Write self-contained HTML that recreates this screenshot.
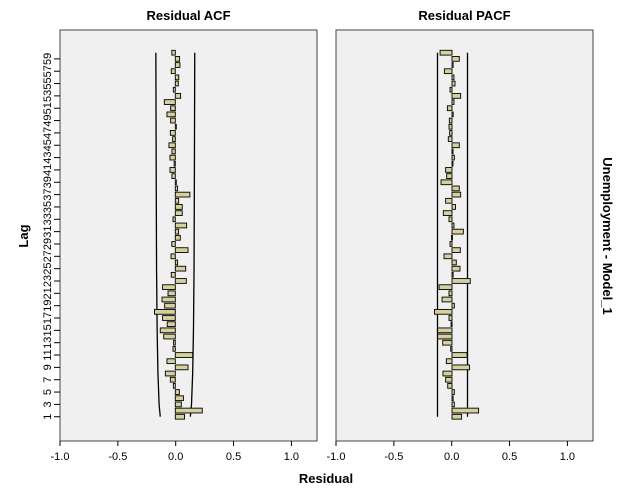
<!DOCTYPE html>
<html><head><style>body{margin:0;background:#fff}svg{display:block}text{font-family:"Liberation Sans",Arial,sans-serif}</style></head>
<body>
<svg id="s" width="626" height="501" xmlns="http://www.w3.org/2000/svg"></svg>
<script>
const acf=[0.08,0.233,0.052,0.07,0.035,-0.017,-0.043,-0.086,0.11,-0.072,0.15,-0.02,-0.015,-0.1,-0.13,-0.07,-0.11,-0.18,-0.092,-0.115,-0.063,-0.11,0.095,-0.035,0.09,0.02,-0.037,0.11,-0.03,0.043,0.029,0.098,-0.02,0.06,0.06,0.029,0.126,0.02,0.003,-0.029,-0.046,-0.01,-0.046,-0.029,-0.055,-0.023,-0.043,0.008,-0.04,-0.072,-0.04,-0.095,0.046,-0.017,0.026,0.03,-0.035,0.04,0.037,-0.03];
const pacf=[0.083,0.23,0.02,0.01,0.02,-0.037,-0.055,-0.078,0.152,-0.049,0.13,-0.011,-0.08,-0.124,-0.124,-0.008,-0.026,-0.152,0.02,-0.086,-0.026,-0.112,0.158,0.01,0.069,0.037,-0.069,0.072,-0.017,-0.005,0.098,0.017,-0.026,-0.075,0.03,-0.055,0.075,0.063,-0.095,-0.046,-0.055,0.008,0.02,0.002,0.063,-0.032,-0.02,-0.026,-0.023,0.01,-0.04,0.017,0.075,-0.017,0.026,0.017,-0.066,0.01,0.063,-0.103];
let h='';
const Y=L=>52.7+(60-L)*6.17, S=115.7;
function panel(x0,title,data,zero,lines){
 h+=`<rect x="${x0}" y="30" width="257" height="411" fill="#f0f0f0" stroke="#444" stroke-width="1"/>`;
 h+=`<text x="${x0+128.5}" y="20" font-size="13" font-weight="bold" text-anchor="middle">${title}</text>`;
 h+=lines;
 data.forEach((v,i)=>{const L=i+1,y=Y(L)-2.4;const a=Math.min(zero,zero+v*S),w=Math.max(Math.abs(v*S),1);
  h+=`<rect x="${a}" y="${y}" width="${w}" height="4.8" fill="#d6d09c" stroke="#000" stroke-width="0.9"/>`;});
 [-1,-0.5,0,0.5,1].forEach(t=>{const x=x0+(t+1)*S;h+=`<line x1="${x}" y1="441" x2="${x}" y2="446" stroke="#000"/><text x="${x}" y="460" font-size="11" text-anchor="middle">${t.toFixed(1)}</text>`;});
}
const za=175.3;
const bnd=[[1,0.13],[3,0.14],[8,0.15],[15,0.157],[25,0.162],[40,0.165],[60,0.168]];
let pl=bnd.map(([L,b])=>`${za-b*S},${Y(L)}`).join(' '),pr=bnd.map(([L,b])=>`${za+b*S},${Y(L)}`).join(' ');
panel(60,'Residual ACF',acf,za,`<polyline points="${pl}" fill="none" stroke="#000" stroke-width="1.3"/><polyline points="${pr}" fill="none" stroke="#000" stroke-width="1.3"/>`);
const zp=452;
panel(336,'Residual PACF',pacf,zp,`<line x1="${zp-14.5}" y1="${Y(60)}" x2="${zp-14.5}" y2="${Y(1)}" stroke="#000" stroke-width="1.3"/><line x1="${zp+15.5}" y1="${Y(60)}" x2="${zp+15.5}" y2="${Y(1)}" stroke="#000" stroke-width="1.3"/>`);
for(let L=1;L<=59;L+=2){const y=Y(L);h+=`<line x1="54" y1="${y}" x2="60" y2="${y}" stroke="#000"/><text transform="translate(51,${y}) rotate(-90)" font-size="11" text-anchor="middle">${L}</text>`;}
h+=`<text transform="translate(28,236) rotate(-90)" font-size="13" font-weight="bold" text-anchor="middle">Lag</text>`;
h+=`<text transform="translate(603,236) rotate(90)" font-size="13" font-weight="bold" text-anchor="middle">Unemployment - Model_1</text>`;
h+=`<text x="326" y="483" font-size="13" font-weight="bold" text-anchor="middle">Residual</text>`;
document.getElementById('s').innerHTML=h;
</script>
</body></html>
